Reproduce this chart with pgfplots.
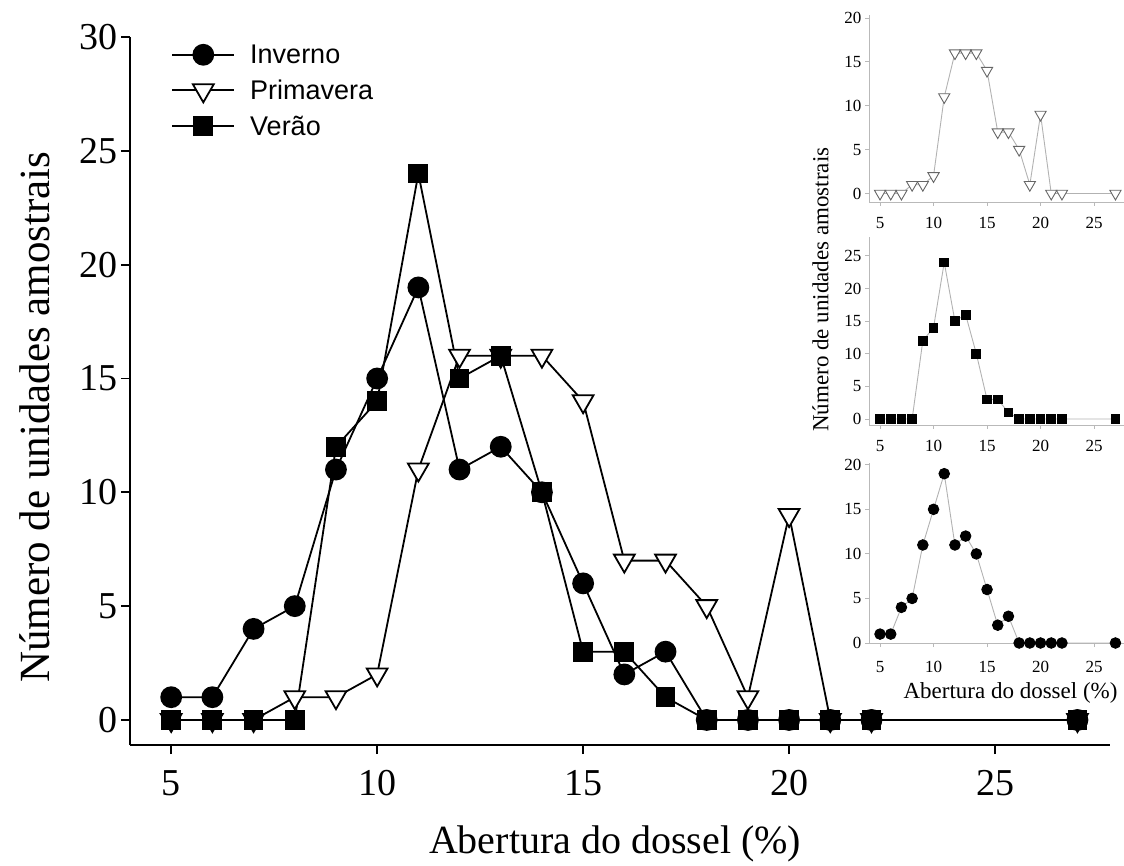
\documentclass[border=0pt]{standalone}
\usepackage{fontspec}
\setmainfont{Liberation Serif}
\newfontfamily\legfont{Liberation Sans}
\usepackage{pgfplots}
\usepackage{pgfplotstable}
\pgfplotsset{compat=1.18}

\pgfplotstableread{
x inv prim ver
5 1 0 0
6 1 0 0
7 4 0 0
8 5 1 0
9 11 1 12
10 15 2 14
11 19 11 24
12 11 16 15
13 12 16 16
14 10 16 10
15 6 14 3
16 2 7 3
17 3 7 1
18 0 5 0
19 0 1 0
20 0 9 0
21 0 0 0
22 0 0 0
27 0 0 0
}\datatable

\begin{document}
\begin{tikzpicture}
\path[use as bounding box] (0pt,0pt) rectangle (1124pt,865pt);

% ---------------- main axis ----------------
\begin{axis}[
  at={(130pt,120pt)}, anchor=south west,
  scale only axis, width=980pt, height=708pt,
  xmin=4, xmax=27.79, ymin=-1.1, ymax=30,
  axis x line*=bottom, axis y line*=left,
  axis line style={line width=1.8pt,-},
  xtick={5,10,...,25}, ytick={0,5,...,30},
  tick align=outside, major tick length=9pt,
  tick style={line width=1.8pt,black},
  /pgf/number format/assume math mode=true,
  ticklabel style={font=\fontsize{38}{40}\selectfont},
  xticklabel style={yshift=-13pt},
  xlabel={Abertura do dossel (\%)},
  ylabel={Número de unidades amostrais},
  xlabel style={font=\fontsize{40}{44}\selectfont, at={(axis description cs:0.495,-0.14)}, anchor=center},
  ylabel style={font=\fontsize{43}{46}\selectfont, at={(axis description cs:-0.097,0.463)}, anchor=center},
  legend style={draw=none, fill=none, at={(0.039,0.995)}, anchor=north west,
    font=\legfont\fontsize{27}{30}\selectfont, row sep=11pt,
    /tikz/every odd column/.style={column sep=13pt}},
  legend cell align=left,
  legend image code/.code={\draw[mark repeat=2,mark phase=2] plot coordinates {(0pt,0pt) (31pt,0pt) (62pt,0pt)};},
  every axis plot/.append style={line width=1.8pt, black},
]
\addlegendimage{mark=*, mark size=10pt, mark options={fill=black}}
\addlegendentry{Inverno}
\addlegendimage{mark=triangle*, mark size=12pt, mark options={fill=white, rotate=180}}
\addlegendentry{Primavera}
\addlegendimage{mark=square*, mark size=9pt, mark options={fill=black}}
\addlegendentry{Verão}

\addplot[forget plot, mark=triangle*, mark size=12pt, mark options={fill=white, rotate=180}] table[x=x,y=prim] {\datatable};
\addplot[forget plot, mark=square*, mark size=9pt, mark options={fill=black}] table[x=x,y=ver] {\datatable};
\addplot[forget plot, mark=*, mark size=10pt, mark options={fill=black}] table[x=x,y=inv] {\datatable};
\end{axis}

% ---------------- insets ----------------
\pgfplotsset{inset/.style={
  anchor=south west, scale only axis, width=255pt,
  xmin=3.97, xmax=27.8,
  axis x line*=bottom, axis y line*=left,
  axis line style={gray!55, line width=0.9pt,-},
  xtick={5,10,...,25},
  tick align=outside, major tick length=4pt,
  tick style={gray!55, line width=0.9pt},
  /pgf/number format/assume math mode=true,
  ticklabel style={font=\fontsize{17}{19}\selectfont},
  xticklabel style={yshift=-8pt},
  label style={font=\fontsize{23}{26}\selectfont},
  every axis plot/.append style={line width=0.9pt, gray!60},
}}

% Primavera (top)
\begin{axis}[inset, at={(869pt,663pt)}, height=187pt, ymin=-0.97, ymax=20.34, ytick={0,5,...,20}]
\addplot[mark=triangle*, mark size=6.5pt, mark options={fill=white, draw=gray!80!black, rotate=180}] table[x=x,y=prim] {\datatable};
\end{axis}

% Verão (middle)
\begin{axis}[inset, at={(869pt,440pt)}, height=188pt, ymin=-0.92, ymax=27.9, ytick={0,5,...,25},
  ylabel={Número de unidades amostrais},
  ylabel style={at={(axis description cs:-0.19,0.72)}, anchor=center}]
\addplot[mark=square*, mark size=4.4pt, mark options={fill=black, draw=black}] table[x=x,y=ver] {\datatable};
\end{axis}

% Inverno (bottom)
\begin{axis}[inset, at={(869pt,222pt)}, height=180pt, ymin=0, ymax=20.2, ytick={0,5,...,20},
  xticklabel style={yshift=-3pt},
  xlabel={Abertura do dossel (\%)},
  xlabel style={at={(axis description cs:0.555,-0.275)}, anchor=center, inner sep=1pt}]
\addplot[mark=*, mark size=5.3pt, mark options={fill=black, draw=black}] table[x=x,y=inv] {\datatable};
\end{axis}
\end{tikzpicture}
\end{document}
